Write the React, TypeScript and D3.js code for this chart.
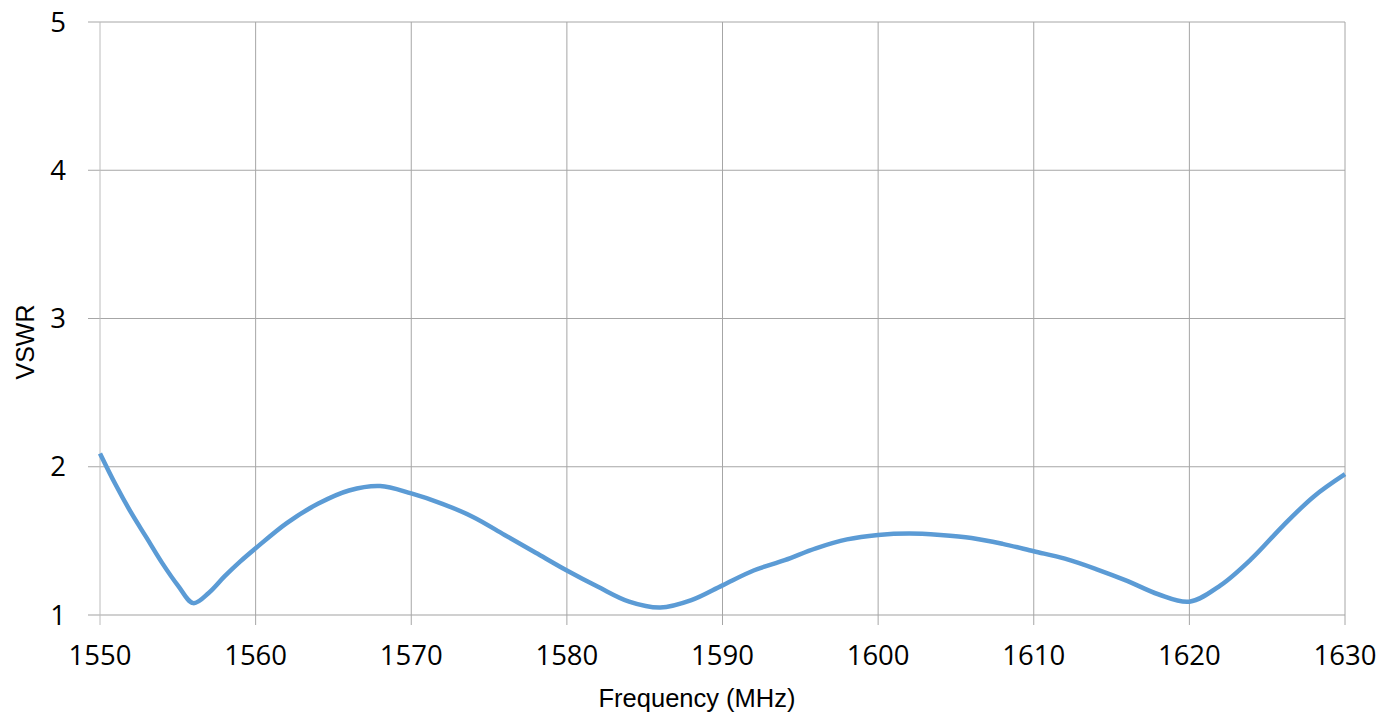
import { useEffect, useRef } from "react"
import * as d3 from "d3"

// frequency (MHz) and VSWR
const freq = [
  1550, 1551, 1552, 1553, 1554, 1555, 1556, 1557, 1558, 1559, 1560, 1562, 1564, 1566, 1568, 1570, 1572, 1574,
  1576, 1578, 1580, 1582, 1584, 1586, 1588, 1590, 1592, 1594, 1596, 1598, 1600, 1602, 1604, 1606, 1608, 1610,
  1612, 1614, 1616, 1618, 1620, 1622, 1624, 1626, 1628, 1630,
]
const vswr = [
  2.09, 1.88, 1.69, 1.52, 1.35, 1.2, 1.08, 1.15, 1.26, 1.36, 1.45, 1.62, 1.75, 1.84, 1.87, 1.82, 1.75, 1.66,
  1.54, 1.42, 1.3, 1.19, 1.09, 1.05, 1.1, 1.2, 1.3, 1.37, 1.45, 1.51, 1.54, 1.55, 1.54, 1.52, 1.48, 1.43,
  1.38, 1.31, 1.23, 1.14, 1.09, 1.2, 1.38, 1.6, 1.8, 1.95,
]
const xTicks = [1550, 1560, 1570, 1580, 1590, 1600, 1610, 1620, 1630]
const yTicks = [1, 2, 3, 4, 5]

export default function App() {
  const svgRef = useRef(null)

  useEffect(() => {
    if (!svgRef.current) return
    const svg = d3.select(svgRef.current)
    svg.selectAll("*").remove()

    const width = 1385
    const height = 715
    const left = 100
    const right = 1345
    const top = 22
    const bottom = 615

    const x = d3.scaleLinear().domain([1550, 1630]).range([left, right])
    const y = d3.scaleLinear().domain([1, 5]).range([bottom, top])

    const tickFont = "'Open Sans', 'Noto Sans', sans-serif"
    const titleFont = "'Liberation Sans', Arial, sans-serif"

    // horizontal grid lines
    svg.append("g")
      .selectAll("line")
      .data(yTicks)
      .join("line")
      .attr("x1", left - 12)
      .attr("x2", right)
      .attr("y1", (d) => y(d))
      .attr("y2", (d) => y(d))
      .attr("stroke", (d) => (d === 1 ? "#d0d0d0" : "#a6a6a6"))
      .attr("stroke-width", (d) => (d === 1 ? 2 : 1))

    // vertical grid lines
    svg.append("g")
      .selectAll("line")
      .data(xTicks)
      .join("line")
      .attr("x1", (d) => x(d))
      .attr("x2", (d) => x(d))
      .attr("y1", top)
      .attr("y2", bottom + 10)
      .attr("stroke", (d) => (d === 1550 ? "#bcbcbc" : "#a6a6a6"))
      .attr("stroke-width", 1)

    // y tick labels
    svg.append("g")
      .selectAll("text")
      .data(yTicks)
      .join("text")
      .attr("x", 66)
      .attr("y", (d) => y(d))
      .attr("dy", "0.35em")
      .attr("text-anchor", "end")
      .attr("font-family", tickFont)
      .attr("font-size", 27.5)
      .attr("fill", "#000")
      .text((d) => d)

    // x tick labels
    svg.append("g")
      .selectAll("text")
      .data(xTicks)
      .join("text")
      .attr("x", (d) => x(d))
      .attr("y", 665)
      .attr("text-anchor", "middle")
      .attr("font-family", tickFont)
      .attr("font-size", 27.5)
      .attr("fill", "#000")
      .text((d) => d)

    // curve
    const data = freq.map((f, i) => ({ f, v: vswr[i] }))
    svg.append("path")
      .datum(data)
      .attr("fill", "none")
      .attr("stroke", "#5b9bd5")
      .attr("stroke-width", 4.5)
      .attr("stroke-linejoin", "round")
      .attr(
        "d",
        d3
          .line<{ f: number; v: number }>()
          .x((d) => x(d.f))
          .y((d) => y(d.v))
          .curve(d3.curveCatmullRom.alpha(0.5)),
      )

    // axis titles
    svg.append("text")
      .attr("x", 697)
      .attr("y", 707)
      .attr("text-anchor", "middle")
      .attr("font-family", titleFont)
      .attr("font-size", 25.5)
      .attr("fill", "#000")
      .text("Frequency (MHz)")

    svg.append("text")
      .attr("transform", `translate(34, 342) rotate(-90)`)
      .attr("text-anchor", "middle")
      .attr("font-family", titleFont)
      .attr("font-size", 25)
      .attr("fill", "#000")
      .text("VSWR")

    svg.attr("width", width).attr("height", height).attr("viewBox", [0, 0, width, height])
  }, [])

  return (
    <svg
      ref={svgRef}
      style={{ position: "absolute", left: 0, top: 0, background: "#fff", display: "block" }}
    ></svg>
  )
}
